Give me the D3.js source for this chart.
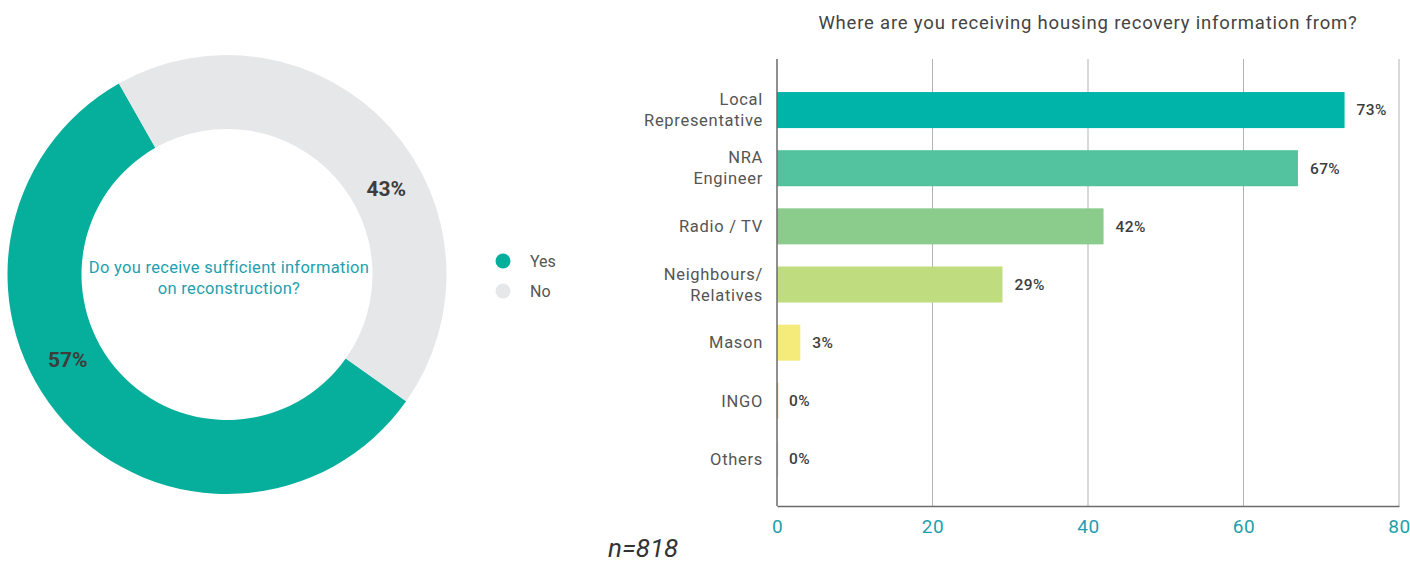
<!DOCTYPE html>
<html>
<head>
<meta charset="utf-8">
<script src="https://cdn.jsdelivr.net/npm/d3@7"></script>
<style>
  html, body { margin: 0; padding: 0; background: #fff; }
  svg { display: block; font-family: Roboto, "Noto Sans", sans-serif; }
</style>
</head>
<body>
<svg id="chart" width="1410" height="564"></svg>
<script>
// Donut: sufficient information on reconstruction
const donutLabels = ["Yes", "No"];
const donutValues = [57, 43];
const donutColors = ["#06ae9c", "#e6e7e9"];

// Bars: sources of housing recovery information
const sources = ["Local\nRepresentative", "NRA\nEngineer", "Radio / TV", "Neighbours/\nRelatives", "Mason", "INGO", "Others"];
const sourceValues = [73, 67, 42, 29, 3, 0, 0];
const sourceColors = ["#00b4aa", "#53c29e", "#8bcb8b", "#bfdc7f", "#f5eb7a", "#f2a65a", "#dddddd"];
const xTicks = [0, 20, 40, 60, 80];

const svg = d3.select("#chart");

// ---------- donut ----------
const cx = 227, cy = 274.5, rOuter = 219.5, rInner = 145.5;
const start = 125.3 * Math.PI / 180;
const pie = d3.pie().sort(null).startAngle(start).endAngle(start + 2 * Math.PI);
const arcs = pie(donutValues);
const arc = d3.arc().innerRadius(rInner).outerRadius(rOuter);

const dg = svg.append("g").attr("transform", `translate(${cx},${cy})`);
dg.selectAll("path").data(arcs).join("path")
  .attr("d", arc)
  .attr("fill", (d, i) => donutColors[i]);

// percentage labels, placed inside the ring slightly past each slice's middle
const labelR = 181;
dg.selectAll("text.pct").data(arcs).join("text")
  .attr("class", "pct")
  .attr("x", d => labelR * Math.sin((d.startAngle + d.endAngle) / 2 + 0.24))
  .attr("y", d => -labelR * Math.cos((d.startAngle + d.endAngle) / 2 + 0.24))
  .attr("text-anchor", "middle")
  .attr("dominant-baseline", "central")
  .attr("font-size", 21)
  .attr("font-weight", 700)
  .attr("fill", "#3d3d3d")
  .text(d => d.data + "%");

const q = dg.append("text")
  .attr("text-anchor", "middle")
  .attr("fill", "#1e9fae")
  .attr("font-size", 16.5)
  .attr("letter-spacing", 0.3);
q.append("tspan").attr("x", 2).attr("y", -2).text("Do you receive sufficient information");
q.append("tspan").attr("x", 2).attr("y", 19).text("on reconstruction?");

// legend
const lg = svg.append("g").attr("transform", "translate(503,261)");
const li = lg.selectAll("g").data(donutLabels).join("g")
  .attr("transform", (d, i) => `translate(0,${i * 30})`);
li.append("circle").attr("r", 7.5).attr("fill", (d, i) => donutColors[i]);
li.append("text").attr("x", 27).attr("dy", "0.35em")
  .attr("font-size", 16).attr("fill", "#555").text(d => d);

// ---------- bars ----------
const x = d3.scaleLinear().domain([0, 80]).range([777, 1399]);
const y = d3.scaleBand().domain(sources).range([81, 488]).paddingInner(0.38).paddingOuter(0.19);
const plotTop = 59, plotBottom = 506;

svg.append("text")
  .attr("x", 1088).attr("y", 29)
  .attr("text-anchor", "middle")
  .attr("font-size", 18.5)
  .attr("letter-spacing", 0.8)
  .attr("fill", "#444")
  .text("Where are you receiving housing recovery information from?");

// gridlines
svg.append("g").selectAll("line").data(xTicks.slice(1)).join("line")
  .attr("x1", d => x(d)).attr("x2", d => x(d))
  .attr("y1", plotTop).attr("y2", plotBottom)
  .attr("stroke", "#b3b3b3").attr("stroke-width", 1);

// bars
svg.append("g").selectAll("rect").data(sourceValues).join("rect")
  .attr("x", x(0))
  .attr("y", (d, i) => y(sources[i]))
  .attr("width", d => Math.max(x(d) - x(0), 1.2))
  .attr("height", y.bandwidth())
  .attr("fill", (d, i) => sourceColors[i]);

// value labels
svg.append("g").selectAll("text").data(sourceValues).join("text")
  .attr("x", d => x(d) + 12)
  .attr("y", (d, i) => y(sources[i]) + y.bandwidth() / 2)
  .attr("dy", "0.35em")
  .attr("font-size", 15.5)
  .attr("font-weight", 500)
  .attr("letter-spacing", 0.4)
  .attr("fill", "#3d3d3d")
  .text(d => d + "%");

// category labels
const cl = svg.append("g").selectAll("text").data(sources).join("text")
  .attr("text-anchor", "end")
  .attr("font-size", 16.5)
  .attr("letter-spacing", 0.7)
  .attr("fill", "#555")
  .attr("transform", d => `translate(763,${y(d) + y.bandwidth() / 2})`);
cl.each(function(d) {
  const lines = d.split("\n");
  const t = d3.select(this);
  lines.forEach((s, k) => {
    t.append("tspan").attr("x", 0)
      .attr("y", (k - (lines.length - 1) / 2) * 21)
      .attr("dy", "0.35em")
      .text(s);
  });
});

// axes
const xAxis = d3.axisBottom(x).tickValues(xTicks).tickSize(0).tickPadding(14);
const ax = svg.append("g").attr("transform", `translate(0,${plotBottom})`).call(xAxis);
ax.select(".domain").attr("stroke", "#6b6b6b").attr("stroke-width", 1.5);
ax.selectAll("text").attr("font-size", 19).attr("fill", "#1e9fae")
  .attr("letter-spacing", 0.5)
  .attr("font-family", "Roboto, sans-serif");

svg.append("line")
  .attr("x1", x(0)).attr("x2", x(0)).attr("y1", plotTop).attr("y2", plotBottom)
  .attr("stroke", "#6b6b6b").attr("stroke-width", 1.5);

// sample size
svg.append("text")
  .attr("x", 608).attr("y", 557)
  .attr("font-size", 26)
  .attr("font-style", "italic")
  .attr("fill", "#333")
  .text("n=818");
</script>
</body>
</html>
